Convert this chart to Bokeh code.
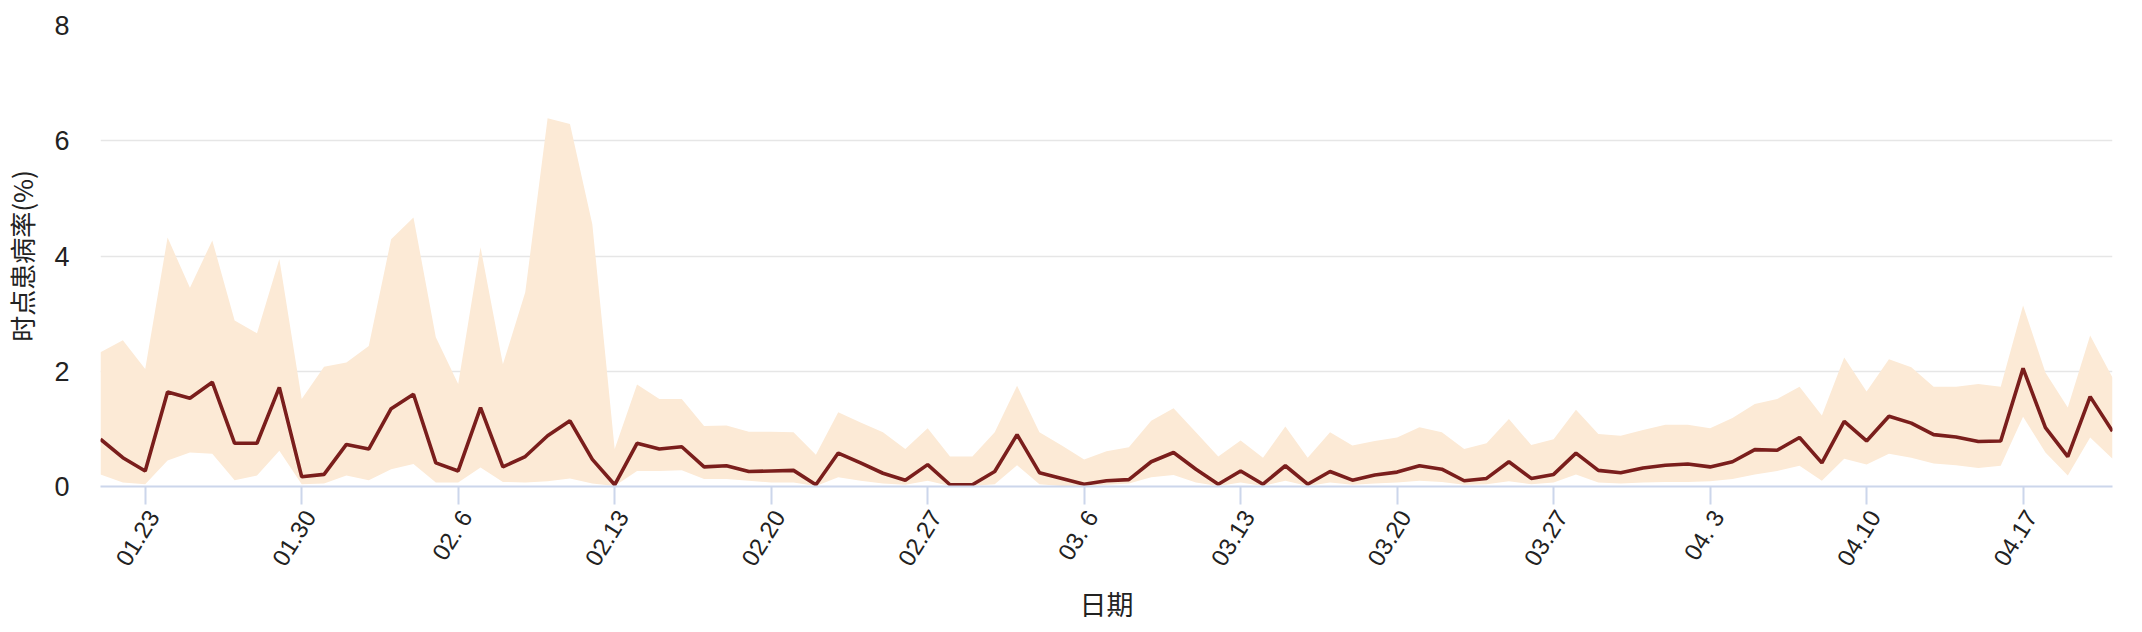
import math
import datetime as dt
from bokeh.plotting import figure
from bokeh.models import Range1d, FixedTicker, ColumnDataSource, LinearAxis
from bokeh.embed import file_html
from bokeh.resources import INLINE

# ---- data ----
start_date = "2023-01-21"
n_days = 91

mean = [0.82, 0.50, 0.27, 1.64, 1.53, 1.81, 0.75, 0.75, 1.72, 0.17, 0.21,
        0.73, 0.65, 1.35, 1.60, 0.41, 0.27, 1.37, 0.34, 0.52, 0.88, 1.14,
        0.47, 0.03, 0.75, 0.65, 0.69, 0.34, 0.36, 0.26, 0.27, 0.28, 0.03,
        0.58, 0.41, 0.23, 0.11, 0.38, 0.03,
        0.03, 0.26, 0.90, 0.24, 0.14, 0.04, 0.10, 0.12, 0.43, 0.59, 0.30,
        0.04, 0.27, 0.04, 0.36, 0.04, 0.26, 0.11, 0.20, 0.25, 0.36, 0.30,
        0.10, 0.14, 0.43, 0.14, 0.21, 0.58, 0.28, 0.24, 0.32,
        0.37, 0.39, 0.34, 0.43, 0.64, 0.63, 0.85, 0.41, 1.13, 0.79, 1.22,
        1.10, 0.90, 0.86, 0.78, 0.79, 2.05, 1.02, 0.52, 1.56, 0.96]

upper = [2.33, 2.54, 2.04, 4.32, 3.45, 4.27, 2.88, 2.66, 3.95, 1.52, 2.08,
         2.15, 2.44, 4.29, 4.67, 2.59, 1.78, 4.15, 2.12, 3.37, 6.39, 6.29,
         4.55, 0.65, 1.77, 1.52, 1.52, 1.05, 1.06, 0.95, 0.95, 0.94, 0.55,
         1.29, 1.11, 0.94, 0.65, 1.01, 0.52,
         0.52, 0.94, 1.75, 0.94, 0.71, 0.47, 0.61, 0.68, 1.14, 1.36, 0.94,
         0.52, 0.80, 0.50, 1.04, 0.50, 0.94, 0.71, 0.79, 0.85, 1.03, 0.94,
         0.65, 0.75, 1.17, 0.72, 0.82, 1.33, 0.91, 0.88, 0.98,
         1.07, 1.07, 1.01, 1.19, 1.43, 1.52, 1.73, 1.23, 2.24, 1.65, 2.21,
         2.07, 1.73, 1.73, 1.78, 1.73, 3.14, 1.98, 1.37, 2.62, 1.89]

lower = [0.21, 0.07, 0.04, 0.45, 0.59, 0.57, 0.11, 0.19, 0.62, 0.04, 0.05,
         0.19, 0.11, 0.30, 0.39, 0.07, 0.07, 0.33, 0.08, 0.07, 0.09, 0.14,
         0.05, 0.01, 0.27, 0.27, 0.28, 0.13, 0.13, 0.10, 0.07, 0.07, 0.01,
         0.16, 0.10, 0.05, 0.03, 0.10, 0.01,
         0.01, 0.04, 0.37, 0.04, 0.01, 0.01, 0.03, 0.05, 0.16, 0.20, 0.07,
         0.01, 0.07, 0.01, 0.10, 0.01, 0.07, 0.03, 0.05, 0.07, 0.10, 0.08,
         0.03, 0.04, 0.09, 0.04, 0.07, 0.21, 0.07, 0.05, 0.07,
         0.08, 0.08, 0.09, 0.13, 0.21, 0.27, 0.36, 0.10, 0.48, 0.38, 0.57,
         0.50, 0.40, 0.37, 0.32, 0.36, 1.21, 0.59, 0.19, 0.85, 0.48]

y_ticks = [0, 2, 4, 6, 8]
tick_every = 7
first_tick_index = 2

# ---- build labels ----
d0 = dt.date.fromisoformat(start_date)
dates = [d0 + dt.timedelta(days=i) for i in range(n_days)]
date_labels = ["%02d.%2d" % (d.month, d.day) for d in dates]
x = list(range(n_days))
tick_idx = list(range(first_tick_index, n_days, tick_every))

src = ColumnDataSource(dict(x=x, mean=mean, lower=lower, upper=upper))

W, H = 2142, 632
p = figure(width=W, height=H, output_backend="svg", toolbar_location=None,
           x_range=Range1d(0, n_days - 1), y_range=Range1d(0, 8),
           min_border_left=98, min_border_right=30, min_border_top=25,
           min_border_bottom=146)

p.varea(x="x", y1="lower", y2="upper", source=src, fill_color="#FCEAD6",
        fill_alpha=1.0)
p.line(x="x", y="mean", source=src, line_color="#7A1E1C", line_width=3.6)

p.outline_line_color = None
p.background_fill_color = "white"

# y axis
yax = p.yaxis[0]
yax.ticker = FixedTicker(ticks=y_ticks)
yax.axis_line_color = None
yax.major_tick_line_color = None
yax.major_tick_out = 0
yax.major_tick_in = 0
yax.minor_tick_line_color = None
yax.minor_tick_out = 0
yax.major_label_standoff = 31
yax.major_label_text_font = "Liberation Sans"
yax.major_label_text_font_size = "27px"
yax.major_label_text_color = "#222222"
yax.axis_label = "时点患病率(%)"
yax.axis_label_text_font = "Noto Sans CJK SC"
yax.axis_label_text_font_size = "26px"
yax.axis_label_text_font_style = "normal"
yax.axis_label_text_color = "#222222"
yax.axis_label_standoff = 11

# x axis (line + tick marks only)
xax = p.xaxis[0]
xax.ticker = FixedTicker(ticks=tick_idx)
xax.major_label_overrides = {i: "" for i in tick_idx}
xax.axis_line_color = "#CCD6EB"
xax.axis_line_width = 2
xax.major_tick_line_color = "#CCD6EB"
xax.major_tick_line_width = 2
xax.major_tick_in = 0
xax.major_tick_out = 18
xax.minor_tick_line_color = None
xax.minor_tick_out = 0
xax.major_label_standoff = 0
xax.major_label_text_font_size = "1px"

# second x axis carrying the rotated date labels, slightly shifted right
SCALE = 100
SHIFT = 36
p.extra_x_ranges = {"lab": Range1d(0, (n_days - 1) * SCALE)}
lab_ticks = [i * SCALE + SHIFT for i in tick_idx]
lax = LinearAxis(x_range_name="lab")
lax.ticker = FixedTicker(ticks=lab_ticks)
lax.major_label_overrides = {t: date_labels[i] for t, i in zip(lab_ticks, tick_idx)}
lax.major_label_orientation = math.radians(58)
lax.axis_line_color = None
lax.major_tick_line_color = None
lax.minor_tick_line_color = None
lax.major_tick_in = 0
lax.major_tick_out = 0
lax.minor_tick_out = 0
lax.major_label_standoff = 8
lax.major_label_text_font = "Liberation Sans"
lax.major_label_text_font_size = "24px"
lax.major_label_text_color = "#222222"
lax.axis_label = "日期"
lax.axis_label_text_font = "Noto Sans CJK SC"
lax.axis_label_text_font_size = "27px"
lax.axis_label_text_font_style = "normal"
lax.axis_label_text_color = "#222222"
lax.axis_label_standoff = 3
p.add_layout(lax, "below")

p.xgrid.grid_line_color = None
p.ygrid.ticker = FixedTicker(ticks=y_ticks)
p.ygrid.grid_line_color = "#E6E6E6"
p.ygrid.grid_line_width = 1.5

open("out.html", "w").write(file_html(p, INLINE))
